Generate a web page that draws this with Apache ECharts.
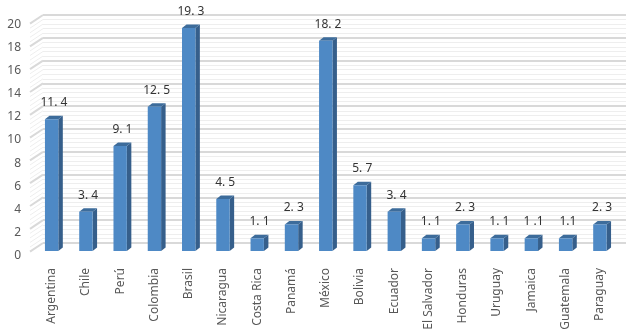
<!DOCTYPE html>
<html>
<head>
<meta charset="utf-8">
<script src="https://cdn.jsdelivr.net/npm/echarts@6/dist/echarts.min.js"></script>
<style>
  html, body { margin: 0; padding: 0; background: #fff; }
  #chart { width: 630px; height: 329px; }
</style>
</head>
<body>
<div id="chart"></div>
<script>
// datos
const countries = ['Argentina', 'Chile', 'Perú', 'Colombia', 'Brasil', 'Nicaragua', 'Costa Rica', 'Panamá',
  'México', 'Bolivia', 'Ecuador', 'El Salvador', 'Honduras', 'Uruguay', 'Jamaica', 'Guatemala', 'Paraguay'];
const values = [11.4, 3.4, 9.1, 12.5, 19.3, 4.5, 1.1, 2.3, 18.2, 5.7, 3.4, 1.1, 2.3, 1.1, 1.1, 1.1, 2.3];
const valueLabels = ['11. 4', '3. 4', '9. 1', '12. 5', '19. 3', '4. 5', '1. 1', '2. 3', '18. 2', '5. 7',
  '3. 4', '1. 1', '2. 3', '1. 1', '1 .1', '1.1', '2. 3'];
const yTicks = { min: 0, max: 20, step: 2 };

const FONT = '"Noto Sans", "DejaVu Sans", sans-serif';
const DX = 4.5, DY = 3.5;          // profundidad de la barra
const WALL_DX = 13, WALL_DY = 8.6; // profundidad de la pared

let chart = echarts.init(document.getElementById('chart'), null, { renderer: 'canvas' });

function wallItem(params, api) {
  // lineas inclinadas de la pared izquierda
  let children = [];
  let minorStep = yTicks.step / 5;
  let n = Math.round((yTicks.max - yTicks.min) / minorStep);
  for (let k = 0; k <= n; k++) {
    let v = yTicks.min + k * minorStep;
    let p = api.coord([0, v]);
    let major = k % 5 === 0;
    children.push({
      type: 'line',
      shape: { x1: p[0] - WALL_DX, y1: p[1] + WALL_DY, x2: p[0], y2: p[1] },
      style: { stroke: major ? '#d9d9d9' : '#eeeeee', lineWidth: major ? 2 : 1 }
    });
  }
  return { type: 'group', children: children };
}

function barItem(params, api) {
  let idx = api.value(0);
  let top = api.coord([idx, api.value(1)]);
  let base = api.coord([idx, 0]);
  let w = api.size([1, 0])[0] * 0.39;
  let x0 = top[0] - w / 2, x1 = top[0] + w / 2;
  let yt = top[1], yb = base[1];
  return {
    type: 'group',
    children: [
      { type: 'polygon', shape: { points: [[x1, yt], [x1 + DX, yt - DY], [x1 + DX, yb - DY], [x1, yb]] },
        style: { fill: '#365f8b' } },
      { type: 'polygon', shape: { points: [[x0, yt], [x0 + DX, yt - DY], [x1 + DX, yt - DY], [x1, yt]] },
        style: { fill: '#3d6c9b' } },
      { type: 'rect', shape: { x: x0, y: yt, width: w, height: yb - yt },
        style: { fill: '#4e89c5' } },
      { type: 'text', style: {
          text: valueLabels[idx], x: top[0] + DX / 2, y: yt - DY - 13,
          align: 'center', verticalAlign: 'middle',
          fontSize: 12, fontFamily: FONT, fill: '#333333' } }
    ]
  };
}

let option = {
  animation: false,
  grid: [
    { left: 43, right: 4, top: 15, bottom: 86, outerBoundsMode: 'none' },    // pared del fondo
    { left: 34.5, right: 13, top: 20, bottom: 78, outerBoundsMode: 'none' }, // barras
    { left: 30, right: 4, top: 24.5, bottom: 73.5, outerBoundsMode: 'none' } // etiquetas eje y
  ],
  xAxis: [
    { gridIndex: 0, type: 'value', min: 0, max: 1, show: false },
    {
      gridIndex: 1, type: 'category', data: countries,
      axisLine: { show: false }, axisTick: { show: false },
      axisLabel: { rotate: 90, margin: 17, interval: 0, fontSize: 12, fontFamily: FONT, color: '#595959' }
    },
    { gridIndex: 2, type: 'value', min: 0, max: 1, show: false }
  ],
  yAxis: [
    {
      gridIndex: 0, type: 'value', min: yTicks.min, max: yTicks.max, interval: yTicks.step,
      axisLabel: { show: false }, axisLine: { show: false }, axisTick: { show: false },
      splitLine: { lineStyle: { color: '#d9d9d9', width: 2 } },
      minorTick: { show: false, splitNumber: 5 },
      minorSplitLine: { show: true, lineStyle: { color: '#eeeeee', width: 1 } }
    },
    {
      gridIndex: 1, type: 'value', min: yTicks.min, max: yTicks.max, interval: yTicks.step,
      show: false
    },
    {
      gridIndex: 2, type: 'value', min: yTicks.min, max: yTicks.max, interval: yTicks.step,
      axisLine: { show: false }, axisTick: { show: false }, splitLine: { show: false },
      axisLabel: { margin: 9, fontSize: 12, fontFamily: FONT, color: '#595959' }
    }
  ],
  series: [
    {
      type: 'custom', xAxisIndex: 0, yAxisIndex: 0, silent: true,
      data: [[0, 0]], renderItem: wallItem
    },
    {
      type: 'custom', xAxisIndex: 1, yAxisIndex: 1,
      data: countries.map((c, i) => [i, values[i]]),
      encode: { x: 0, y: 1 },
      renderItem: barItem
    }
  ]
};

chart.setOption(option);
</script>
</body>
</html>
